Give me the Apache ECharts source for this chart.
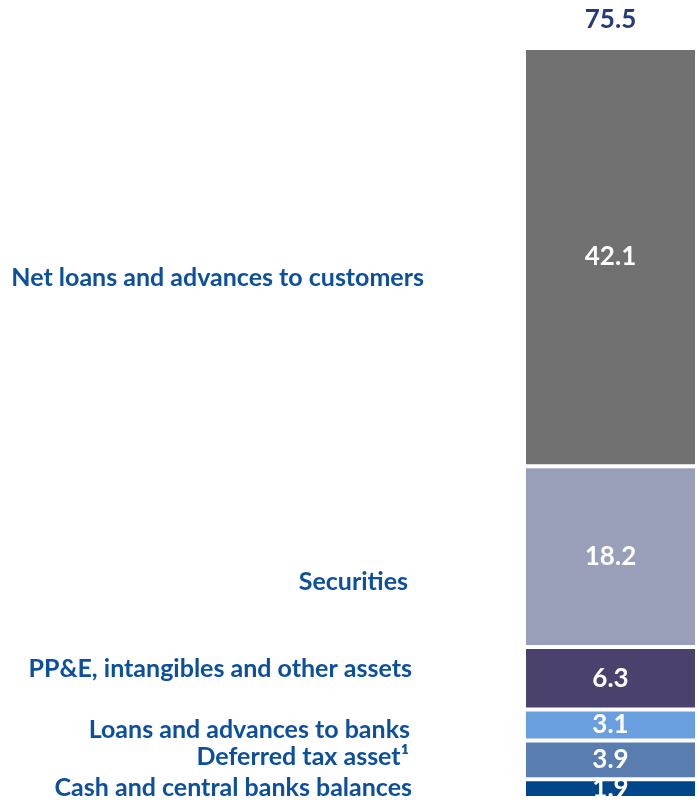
<!DOCTYPE html>
<html>
<head>
<meta charset="utf-8">
<script src="https://cdn.jsdelivr.net/npm/echarts@6/dist/echarts.min.js"></script>
<style>
  html, body { margin: 0; padding: 0; background: #fff; }
  #chart { width: 697px; height: 800px; }
</style>
</head>
<body>
<div id="chart"></div>
<script>
// data, bottom to top of the stack
var categories = ['Total assets']
var segNames = [
  'Cash and central banks balances',
  'Deferred tax asset¹',
  'Loans and advances to banks',
  'PP&E, intangibles and other assets',
  'Securities',
  'Net loans and advances to customers'
]
var segValues = [1.9, 3.9, 3.1, 6.3, 18.2, 42.1]

// styles
var segColors = ['#00468b', '#5a7db0', '#6a9fdf', '#4a426c', '#9a9fb9', '#717171']
// [distance from bar, vertical shift] for the names on the left
var nameLabelPos = [[112, -1], [115, -3], [114, 5], [112, -9], [116, 25], [100, 21]]
var FONT = 'Lato'

var total = segValues.reduce(function (a, b) { return a + b }, 0)

var series = []
segValues.forEach(function (v, i) {
  // visible segment with value inside
  series.push({
    name: segNames[i],
    type: 'bar',
    stack: 'values',
    barWidth: '100%',
    barGap: '-100%',
    data: [v],
    itemStyle: { color: segColors[i], borderColor: '#fff', borderWidth: 2 },
    label: {
      show: true,
      position: 'inside',
      color: '#fff',
      fontFamily: FONT,
      fontWeight: 'bold',
      fontSize: 26,
      formatter: function (p) { return p.value.toFixed(1) }
    }
  })
})
// invisible copy of the stack that carries the names
segValues.forEach(function (v, i) {
  series.push({
    type: 'bar',
    stack: 'names',
    barWidth: '100%',
    barGap: '-100%',
    silent: true,
    data: [{
      value: v,
      label: { distance: nameLabelPos[i][0], offset: [0, nameLabelPos[i][1]] }
    }],
    itemStyle: { color: 'transparent' },
    label: {
      show: true,
      position: 'left',
      color: '#0c4f9d',
      fontFamily: FONT,
      fontWeight: 'bold',
      fontSize: 25,
      formatter: segNames[i]
    }
  })
})
// total on top
series.push({
  type: 'bar',
  stack: 'values',
  barWidth: '100%',
  barGap: '-100%',
  data: [0],
  itemStyle: { color: 'transparent' },
  label: {
    show: true,
    position: 'top',
    distance: 15,
    color: '#263a7b',
    fontFamily: FONT,
    fontWeight: 'bold',
    fontSize: 26,
    formatter: total.toFixed(1)
  }
})

var chart = echarts.init(document.getElementById('chart'))
chart.setOption({
  animation: false,
  grid: { left: 524, right: -4, top: 48, bottom: 2 },
  xAxis: {
    type: 'category',
    data: categories,
    show: false
  },
  yAxis: {
    type: 'value',
    min: 0,
    max: 75.5,
    show: false
  },
  series: series
})
</script>
</body>
</html>
